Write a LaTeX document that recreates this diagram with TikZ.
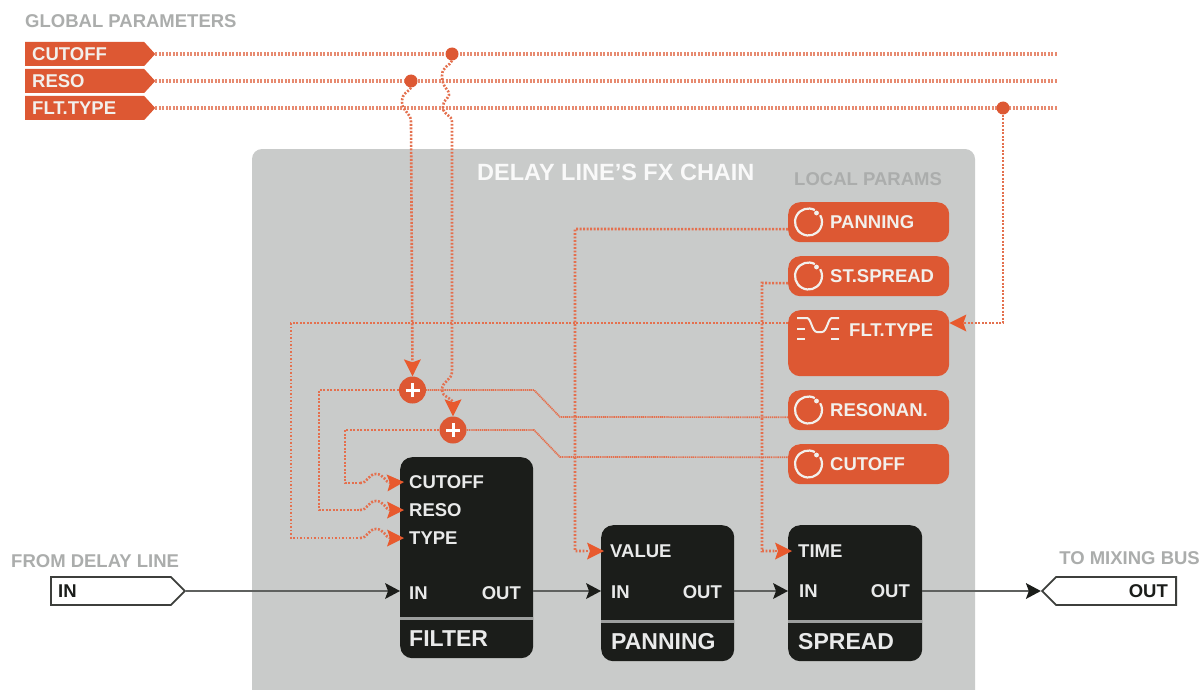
\documentclass[tikz,border=0pt]{standalone}
\usepackage{fontspec}
\setmainfont{Liberation Sans}
\usetikzlibrary{arrows.meta,shapes.symbols,calc}
\definecolor{org}{HTML}{DD5833}
\definecolor{arr}{HTML}{E85A2E}
\definecolor{dots}{HTML}{E4704E}
\definecolor{panel}{HTML}{C9CBCA}
\definecolor{blk}{HTML}{1B1D1A}
\definecolor{gtxt}{HTML}{ABADAC}
\definecolor{wtxt}{HTML}{F2F0EC}
\tikzset{
 txt/.style={inner sep=0pt,font=\bfseries\fontsize{#1}{#1}\selectfont},
 txt/.default=18.5,
 gtag/.style={signal,signal to=east,signal pointer angle=95,fill=org,draw=none,inner sep=0pt,minimum width=130pt,minimum height=24pt},
 wtag/.style={txt,text=wtxt,anchor=west},
 iotag/.style={signal,signal pointer angle=90,draw=blk!85,fill=white,line width=1.8pt,inner sep=0pt,minimum height=28pt,minimum width=134pt},
 title/.style={txt,text=gtxt,anchor=west},
 lbtn/.style={fill=org,rounded corners=12pt,minimum width=161pt,inner sep=0pt,anchor=north west},
 fxblock/.style={fill=blk,rounded corners=12pt,minimum width=133pt,inner sep=0pt,anchor=north west},
 port/.style={txt,text=panel!40!white,anchor=west},
 dashline/.style={draw=dots,line width=2.6pt,dash pattern=on 1.9pt off 1.6pt},
 gline/.style={draw=org!70!white,line width=3.2pt,dash pattern=on 1.9pt off 1.6pt},
 fineline/.style={draw=dots,line width=1.7pt,dash pattern=on 1.2pt off 0.7pt},
 bullet/.style={circle,fill=org,inner sep=0pt,minimum size=13pt},
 sumnode/.style={circle,fill=org,inner sep=0pt,minimum size=27pt,path picture={
   \draw[white,line width=3pt] ([xshift=-7pt]path picture bounding box.center)--([xshift=7pt]path picture bounding box.center);
   \draw[white,line width=3pt] ([yshift=-7pt]path picture bounding box.center)--([yshift=7pt]path picture bounding box.center);}},
 oarrow/.style={-{Stealth[length=17pt,width=17pt,inset=3pt,fill=arr,line width=0pt]}},
 karrow/.style={-{Stealth[length=15pt,width=16pt,inset=3pt,fill=blk,line width=0pt]}},
 sigline/.style={draw=blk!70,line width=2.6pt},
 divider/.style={draw=panel!75!blk,line width=3pt},
}
\newcommand{\knobat}[1]{%
 \draw[wtxt,line width=2.2pt] ($(#1)+(62:13.5pt)$) arc[start angle=62,end angle=390,radius=13.5pt];
 \fill[wtxt] ($(#1)+(8,-9)$) circle[radius=2.4pt];}
\begin{document}
\begin{tikzpicture}[x=1pt,y=-1pt]
\useasboundingbox (0,0) rectangle (1201,690);
\fill[white] (0,0) rectangle (1201,690);
% panel
\fill[panel,rounded corners=10pt] (252,149) -- (975,149) -- (975,720) -- (252,720) -- cycle;
% titles
\node[title] (tglobal) at (25,21) {GLOBAL PARAMETERS};
\node[txt=23.5,text=white!88!panel,anchor=west] (tfx) at (477,172) {DELAY LINE'S FX CHAIN};
\node[title] (tlocal) at (794,179) {LOCAL PARAMS};
\node[title] (tfrom) at (11,561) {FROM DELAY LINE};
\node[title,anchor=east] (tto) at (1200,558) {TO MIXING BUS};
% global tags
\node[gtag,anchor=west] (gcut) at (25,54) {};
\node[gtag,anchor=west] (gres) at (25,81) {};
\node[gtag,anchor=west] (gflt) at (25,108) {};
\node[wtag] (gcutt) at (32,54) {CUTOFF};
\node[wtag] (grest) at (32,81) {RESO};
\node[wtag] (gfltt) at (32,108) {FLT.TYPE};
\coordinate (ecut) at (1057,54);
\coordinate (eres) at (1057,81);
\coordinate (eflt) at (1057,108);
\draw[gline] (gcut.east)--(ecut);
\draw[gline] (gres.east)--(eres);
\draw[gline] (gflt.east)--(eflt);
\node[bullet] (dcut) at (452,54) {};
\node[bullet] (dres) at (411,81) {};
\node[bullet] (dflt) at (1003,108) {};
% local buttons
\node[lbtn,minimum height=40pt] (lpan) at (788,202) {};
\node[lbtn,minimum height=40pt] (lspr) at (788,256) {};
\node[lbtn,minimum height=66pt] (lflt) at (788,310) {};
\node[lbtn,minimum height=40pt] (lres) at (788,390) {};
\node[lbtn,minimum height=40pt] (lcut) at (788,444) {};
\knobat{808.5,222}\knobat{808.5,276}\knobat{808.5,410}\knobat{808.5,464}
\node[wtag] (lpant) at (830,222) {PANNING};
\node[wtag] (lsprt) at (830,276) {ST.SPREAD};
\node[wtag] (lfltt) at (849,330) {FLT.TYPE};
\node[wtag] (lrest) at (830,410) {RESONAN.};
\node[wtag] (lcutt) at (830,464) {CUTOFF};
\draw[wtxt,line width=2pt] (797,318)--(807,318) .. controls (811,318) and (812,332) .. (817,332) -- (822,332) .. controls (827,332) and (828,318) .. (832,318)--(839,318);
\foreach \yy in {329,339}{\draw[wtxt,line width=2pt] (797,\yy)--(805,\yy) (831,\yy)--(839,\yy);}
% fx blocks
\node[fxblock,minimum height=201pt] (bfil) at (400,457) {};
\node[fxblock,minimum height=136pt] (bpan) at (601,525) {};
\node[fxblock,minimum height=136pt,minimum width=134pt] (bspr) at (788,525) {};
\draw[divider] (400,618)--(533,618) (601,621)--(734,621) (788,621)--(922,621);
\node[port] (pcut) at (409,482) {CUTOFF};
\node[port] (pres) at (409,510) {RESO};
\node[port] (ptyp) at (409,538) {TYPE};
\node[port] (pfin) at (409,593) {IN};
\node[port,anchor=east] (pfout) at (521,593) {OUT};
\node[txt=23,text=panel!40!white,anchor=west] (nfil) at (409,639) {FILTER};
\node[port] (pval) at (610,551) {VALUE};
\node[port] (ppin) at (611,592) {IN};
\node[port,anchor=east] (ppout) at (722,592) {OUT};
\node[txt=23,text=panel!40!white,anchor=west] (npan) at (611,642) {PANNING};
\node[port] (ptim) at (798,551) {TIME};
\node[port] (psin) at (799,591) {IN};
\node[port,anchor=east] (psout) at (910,591) {OUT};
\node[txt=23,text=panel!40!white,anchor=west] (nspr) at (798,642) {SPREAD};
% io tags
\node[iotag,signal to=east,anchor=west] (iin) at (50,591) {};
\node[iotag,signal to=west,anchor=east] (iout) at (1177,591) {};
\node[txt,text=blk,anchor=west] (iint) at (58,591) {IN};
\node[txt,text=blk,anchor=east] (ioutt) at (1168,591) {OUT};
% signal path
\coordinate (bfw) at (400,591);\coordinate (bfe) at (533,591);
\coordinate (bpw) at (601,591);\coordinate (bpe) at (734,591);
\coordinate (bsw) at (788,591);\coordinate (bse) at (922,591);
\draw[sigline,karrow] (iin.east)--(bfw);
\draw[sigline,karrow] (bfe)--(bpw);
\draw[sigline,karrow] (bpe)--(bsw);
\draw[sigline,karrow] (bse)--(iout.west);
% sum nodes
\node[sumnode] (s1) at (412.5,390) {};
\node[sumnode] (s2) at (453,430) {};
% global branches
\draw[dashline,oarrow] (dres.south) .. controls (409,92) and (402,92) .. (402,102) .. controls (402,112) and (411,112) .. (411,122) -- (s1.north);
\draw[dashline] (dcut.south) .. controls (450,66) and (442,66) .. (442,76) .. controls (442,88) and (450,90) .. (449,95) .. controls (448,99) and (443,100) .. (443,107) .. controls (443,116) and (452,114) .. (452,122) -- (452,372) .. controls (452,380) and (442,381) .. (442,390) .. controls (442,398) and (453,397) .. (453,404);
\draw[fineline,oarrow] (453,402)--(s2.north);
\draw[dashline,oarrow] (dflt.south) |- ([yshift=-13pt]lflt.north east);
% local params to sums
\draw[fineline] (s1.east) -- (534,390) -- (560,417) -- ([yshift=-7pt]lres.west);
\draw[fineline] (s2.east) -- (534,430) -- (560,457) -- ([yshift=7pt]lcut.west);
% sums to filter
\draw[dashline] (s1.west) -- (319,390) -- (319,510) -- (360,510);
\draw[dashline,oarrow] (360,510) .. controls (368,510) and (368,501) .. (376,501) .. controls (384,501) and (386,510) .. ([xshift=-5pt]pres.west);
\draw[dashline] (s2.west) -- (345,430) -- (345,483) -- (360,483);
\draw[dashline,oarrow] (360,483) .. controls (368,483) and (368,474) .. (376,474) .. controls (384,474) and (386,483) .. ([xshift=-5pt]pcut.west);
\draw[dashline] ([yshift=-13pt]lflt.north west) -- (291,323) -- (291,538) -- (360,538);
\draw[dashline,oarrow] (360,538) .. controls (368,538) and (368,529) .. (376,529) .. controls (384,529) and (386,538) .. ([xshift=-5pt]ptyp.west);
% local to panning / spread
\draw[dashline] ([yshift=-7pt]lpan.west) -- (575,229) -- (575,551) -- (586,551);
\draw[dashline,oarrow] (586,551) -- ([xshift=-6pt]pval.west);
\draw[dashline] ([yshift=-7pt]lspr.west) -- (762,283) -- (762,551) -- (775,551);
\draw[dashline,oarrow] (775,551) -- ([xshift=-6pt]ptim.west);
\end{tikzpicture}
\end{document}
